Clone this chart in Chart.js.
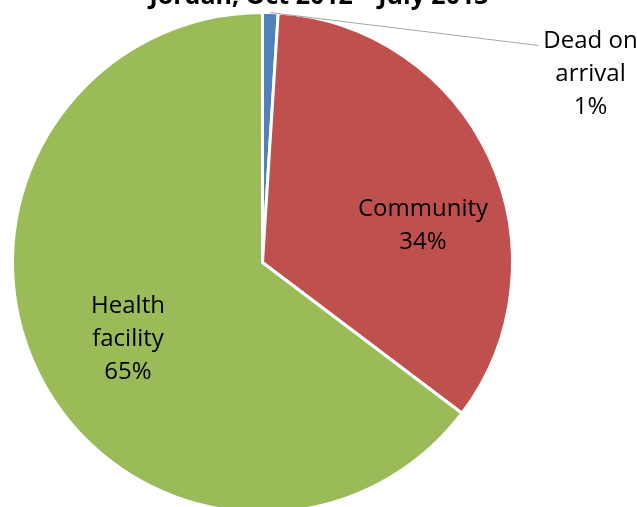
<!DOCTYPE html>
<html>
<head>
<meta charset="utf-8">
<script src="https://cdn.jsdelivr.net/npm/chart.js@4/dist/chart.umd.min.js"></script>
<style>
  html, body { margin: 0; padding: 0; background: #fff; overflow: hidden; }
  #wrap { width: 637px; height: 507px; overflow: hidden; }
</style>
</head>
<body>
<div id="wrap"><canvas id="c" width="637" height="520"></canvas></div>
<script>
const TITLE = 'Jordan, Oct 2012 \u2013 July 2013';
const categories = ['Dead on arrival', 'Community', 'Health facility'];
const labelLines = [['Dead on', 'arrival'], ['Community'], ['Health', 'facility']];
const percentValues = [1.0, 34.3, 64.7];
const sliceColors = ['#4F81BD', '#C0504D', '#9BBB59'];

const FONT = '"Open Sans", "Noto Sans", sans-serif';

const labelPlugin = {
  id: 'pieLabels',
  afterDatasetsDraw(chart, args, opts) {
    const ctx = chart.ctx;
    const meta = chart.getDatasetMeta(0);
    const arcs = meta.data;
    if (!arcs.length) return;
    const cx = arcs[0].x, cy = arcs[0].y, R = arcs[0].outerRadius;
    ctx.save();
    opts.places.forEach((p, i) => {
      const arc = arcs[i];
      if (p.leader) {
        const mid = (arc.startAngle + arc.endAngle) / 2;
        const sx = cx + Math.cos(mid) * R;
        const sy = cy + Math.sin(mid) * R;
        ctx.strokeStyle = '#A6A6A6';
        ctx.lineWidth = 1;
        ctx.beginPath();
        ctx.moveTo(sx, sy);
        ctx.lineTo(cx + p.leader[0] * R, cy + p.leader[1] * R);
        ctx.stroke();
      }
      const lines = labelLines[i].concat([Math.round(chart.data.datasets[0].data[i]) + '%']);
      const lx = cx + p.pos[0] * R;
      const ly = cy + p.pos[1] * R;
      const lh = opts.lineHeight;
      ctx.fillStyle = '#000';
      ctx.font = opts.size + 'px ' + FONT;
      ctx.textAlign = 'center';
      ctx.textBaseline = 'alphabetic';
      const n = lines.length;
      lines.forEach((t, k) => {
        ctx.fillText(t, lx, ly + (k - (n - 1) / 2) * lh);
      });
    });
    // title (top partly cut off, as in the reference)
    ctx.font = 'bold 25px ' + FONT;
    ctx.textAlign = 'center';
    ctx.textBaseline = 'alphabetic';
    ctx.fillStyle = '#000';
    ctx.fillText(TITLE, 319, 4);
    ctx.restore();
  }
};

new Chart(document.getElementById('c'), {
  type: 'pie',
  data: {
    labels: categories,
    datasets: [{
      data: percentValues,
      backgroundColor: sliceColors,
      borderColor: '#FFFFFF',
      borderWidth: 3,
      hoverOffset: 0,
      hoverBorderWidth: 0
    }]
  },
  options: {
    responsive: false,
    animation: false,
    events: [],
    layout: { padding: { left: 11, top: 11, right: 123, bottom: 6 } },
    plugins: {
      legend: { display: false },
      tooltip: { enabled: false },
      title: { display: false },
      pieLabels: {
        size: 24,
        lineHeight: 33,
        places: [
          { pos: [1.312, -0.728], leader: [1.104, -0.868] },
          { pos: [0.642, -0.122] },
          { pos: [-0.538, 0.332] }
        ]
      }
    }
  },
  plugins: [labelPlugin]
});
</script>
</body>
</html>
